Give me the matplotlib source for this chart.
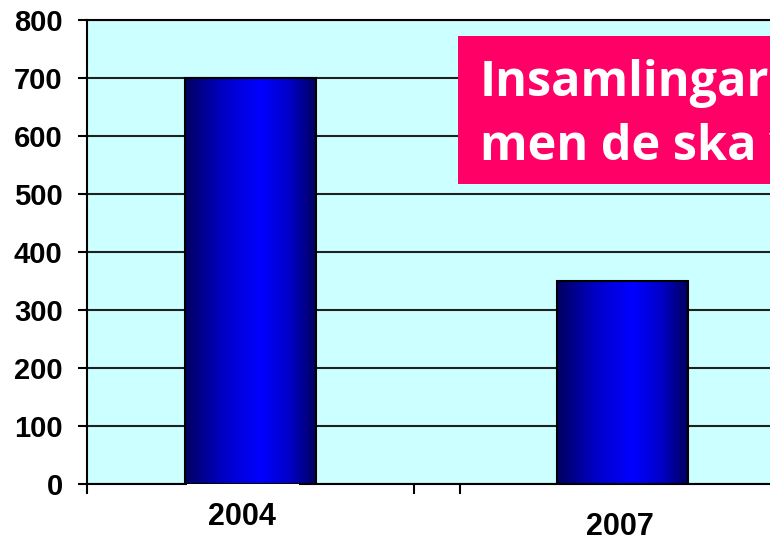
import numpy as np
import matplotlib.pyplot as plt
from matplotlib.colors import LinearSegmentedColormap
from matplotlib.patches import Rectangle
import matplotlib.transforms as mtransforms

years = ['2004', '2007']
values = [700, 350]
yticks = [0, 100, 200, 300, 400, 500, 600, 700, 800]
box_lines = ['Insamlingarna', 'men de ska v']

fig = plt.figure(figsize=(7.7, 5.36), dpi=100)
ax = fig.add_axes([87 / 770, 52 / 536, 683 / 770, 464 / 536])
ax.set_facecolor('#CCFFFF')

# horizontal gradient for the bars: navy edges, bright blue centre
cmap = LinearSegmentedColormap.from_list(
    'bar', [(0, '#000060'), (0.3, '#0000C8'), (0.58, '#0000FF'),
            (0.8, '#0000C8'), (1, '#000060')])
grad = np.linspace(0, 1, 512).reshape(1, -1)

width = 0.352
xpos = np.arange(len(years))
for x, v in zip(xpos, values):
    ax.imshow(grad, extent=[x - width / 2, x + width / 2, 0, v],
              aspect='auto', cmap=cmap, zorder=3, origin='lower',
              interpolation='bilinear')
    ax.add_patch(Rectangle((x - width / 2, 0), width, v, fill=False,
                           edgecolor='black', lw=1.5, zorder=4))

ax.set_xlim(-0.44, 1.396)
ax.set_ylim(0, 800)
ax.set_yticks(yticks)
ax.set_yticklabels([str(t) for t in yticks], fontsize=21, fontweight='bold',
                   family='Liberation Sans')
ax.yaxis.grid(True, color='#202020', lw=1.5, zorder=1)
ax.set_axisbelow(True)
ax.tick_params(axis='y', length=6.5, width=1.5, pad=11, direction='out')

ax.set_xticks(xpos)
ax.set_xticklabels(years, fontsize=22, fontweight='bold', family='Liberation Sans')
ax.tick_params(axis='x', which='major', length=0, pad=13)
ax.set_xticks([-0.44, 0.44, 0.563], minor=True)
ax.tick_params(axis='x', which='minor', length=7, width=1.5, direction='out')
# labels sit a bit off-centre, the second one lower
shifts = [(-9, 0), (-2.5, -10)]
for lab, (dx, dy) in zip(ax.get_xticklabels(), shifts):
    lab.set_transform(lab.get_transform() +
                      mtransforms.ScaledTranslation(dx / 100, dy / 100,
                                                    fig.dpi_scale_trans))

for s in ['left', 'bottom', 'top']:
    ax.spines[s].set_linewidth(1.5)
ax.spines['right'].set_visible(False)

# white gap in the axis line under the first bar
fig.patches.append(Rectangle((187 / 770, 1 - 488 / 536), 112 / 770, 4 / 536,
                             transform=fig.transFigure, facecolor='white',
                             edgecolor='none', zorder=5))

# pink caption box
fig.patches.append(Rectangle((458 / 770, 1 - 184 / 536), 0.5, 148 / 536,
                             transform=fig.transFigure, facecolor='#FF0066',
                             edgecolor='none', zorder=5))
fig.text(480 / 770, 1 - 96 / 536, box_lines[0], color='white', fontsize=35,
         fontweight='bold', family='Open Sans', va='baseline', zorder=6)
fig.text(480 / 770, 1 - 160 / 536, box_lines[1], color='white', fontsize=35,
         fontweight='bold', family='Open Sans', va='baseline', zorder=6)

fig.savefig('out.png', dpi=100)
